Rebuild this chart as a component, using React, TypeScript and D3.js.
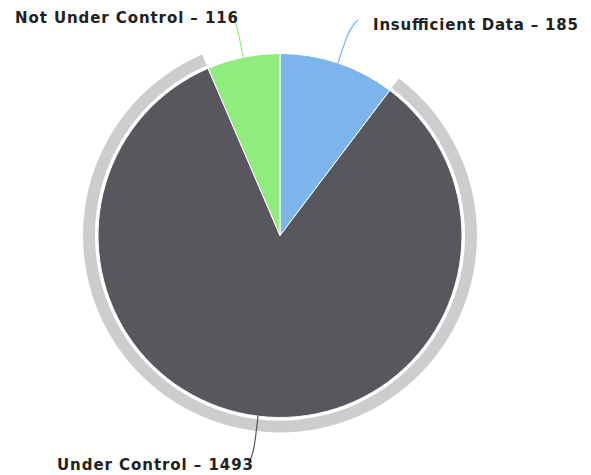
import React from "react";
import * as d3 from "d3";

const categories = ["Insufficient Data", "Under Control", "Not Under Control"];
const values = [185, 1493, 116];
const colors = ["#7cb5ec", "#58575d", "#90ed7d"];
const hovered = "Under Control";

// label layout (position of text + connector end)
const labelLayout: Record<string, { x: number; y: number; anchor: string; len: number; ex: number; ey: number }> = {
  "Insufficient Data": { x: 373, y: 30, anchor: "start", len: 205, ex: 358, ey: 20 },
  "Under Control": { x: 57, y: 470, anchor: "start", len: 196, ex: 250, ey: 460 },
  "Not Under Control": { x: 238, y: 23, anchor: "end", len: 223, ex: 231, ey: 12 },
};

const W = 591;
const H = 475;
const cx = 280;
const cy = 235.5;
const R = 182;

export default function App() {
  const pie = d3
    .pie<number>()
    .sort(null)
    .startAngle(0)
    .endAngle(2 * Math.PI)
    .value((d) => d);
  const arcs = pie(values);
  const arc = d3.arc<d3.PieArcDatum<number>>().innerRadius(0).outerRadius(R);
  const halo = d3.arc<d3.PieArcDatum<number>>().innerRadius(R + 3).outerRadius(R + 15);

  const pt = (a: number, r: number) => [Math.sin(a) * r, -Math.cos(a) * r];

  return (
    <svg width={W} height={H} style={{ position: "absolute", left: 0, top: 0, background: "#fff" }}>
      <g transform={`translate(${cx},${cy})`}>
        {arcs.map((a, i) =>
          categories[i] === hovered ? (
            <path key={"h" + i} d={halo(a) || ""} fill="#cdcdcd" />
          ) : null
        )}
        {arcs.map((a, i) => (
          <path key={i} d={arc(a) || ""} fill={colors[i]} stroke="#ffffff" strokeWidth={1} strokeLinejoin="round" />
        ))}
        {arcs.map((a, i) => {
          const L = labelLayout[categories[i]];
          const mid = (a.startAngle + a.endAngle) / 2;
          const [x0, y0] = pt(mid, R);
          const [x1, y1] = pt(mid, R + 22);
          const [x2, y2] = pt(mid, R + 38);
          const ex = L.ex - cx;
          const ey = L.ey - cy;
          const d = `M${x0},${y0}L${x1},${y1}Q${x2},${y2} ${ex},${ey}`;
          return <path key={"c" + i} d={d} fill="none" stroke={colors[i]} strokeWidth={1.2} />;
        })}
      </g>
      {categories.map((c, i) => {
        const L = labelLayout[c];
        return (
          <text
            key={"t" + i}
            x={L.x}
            y={L.y}
            textAnchor={L.anchor}
            textLength={L.len}
            lengthAdjust="spacing"
            fontFamily="'DejaVu Sans', Verdana, sans-serif"
            fontWeight="bold"
            fontSize={15}
            fill="#222"
          >
            {`${c} – ${values[i]}`}
          </text>
        );
      })}
    </svg>
  );
}
